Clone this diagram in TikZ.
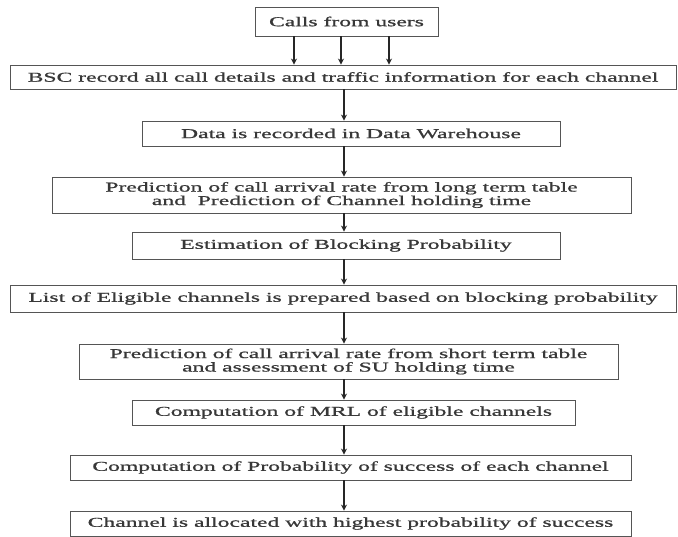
\documentclass[tikz,border=0pt]{standalone}
\usepackage{fontspec}
\setmainfont{Liberation Serif}[FakeStretch=1.75,FakeBold=1]
\usetikzlibrary{arrows.meta}
\definecolor{boxline}{HTML}{555555}
\definecolor{txt}{HTML}{383838}
\tikzset{
  stepbox/.style={draw=boxline, line width=0.9pt, text=txt, inner sep=0pt, align=center,
    font=\fontsize{13.5}{13.5}\selectfont},
  arr/.style={draw=black!85, line width=1.1pt, -{Stealth[length=6pt,width=6pt]}}
}
\begin{document}
\begin{tikzpicture}[x=1pt,y=-1pt]
\useasboundingbox (0,0) rectangle (678,537);
\node[stepbox, minimum width=183pt, minimum height=29pt] (b1) at (346.5,21.5) {Calls from users};
\node[stepbox, minimum width=666pt, minimum height=24pt] (b2) at (343,77) {BSC record all call details and traffic information for each channel};
\node[stepbox, minimum width=418pt, minimum height=25pt] (b3) at (351,133.5) {Data is recorded in Data Warehouse};
\node[stepbox, minimum width=579pt, minimum height=36pt] (b4) at (341.5,195) {Prediction of call arrival rate from long term table\\and~ Prediction of Channel holding time};
\node[stepbox, minimum width=428pt, minimum height=27pt] (b5) at (346,245.5) {Estimation of Blocking Probability};
\node[stepbox, minimum width=666pt, minimum height=27pt] (b6) at (343,298.5) {List of Eligible channels is prepared based on blocking probability};
\node[stepbox, minimum width=539pt, minimum height=35pt] (b7) at (348.5,361.5) {Prediction of call arrival rate from short term table\\and assessment of SU holding time};
\node[stepbox, minimum width=443pt, minimum height=25pt] (b8) at (353.5,412.5) {Computation of MRL of eligible channels};
\node[stepbox, minimum width=561pt, minimum height=25pt] (b9) at (350.5,467.5) {Computation of Probability of success of each channel};
\node[stepbox, minimum width=561pt, minimum height=25pt] (b10) at (350.5,523.5) {Channel is allocated with highest probability of success};
\coordinate (a1) at (294,0);
\coordinate (a2) at (341,0);
\coordinate (a3) at (389,0);
\coordinate (ax) at (344,0);
\draw[arr] (b1.south -| a1) -- (b2.north -| a1);
\draw[arr] (b1.south -| a2) -- (b2.north -| a2);
\draw[arr] (b1.south -| a3) -- (b2.north -| a3);
\draw[arr] (b2.south -| ax) -- (b3.north -| ax);
\draw[arr] (b3.south -| ax) -- (b4.north -| ax);
\draw[arr] (b4.south -| ax) -- (b5.north -| ax);
\draw[arr] (b5.south -| ax) -- (b6.north -| ax);
\draw[arr] (b6.south -| ax) -- (b7.north -| ax);
\draw[arr] (b7.south -| ax) -- (b8.north -| ax);
\draw[arr] (b8.south -| ax) -- (b9.north -| ax);
\draw[arr] (b9.south -| ax) -- (b10.north -| ax);
\end{tikzpicture}
\end{document}
